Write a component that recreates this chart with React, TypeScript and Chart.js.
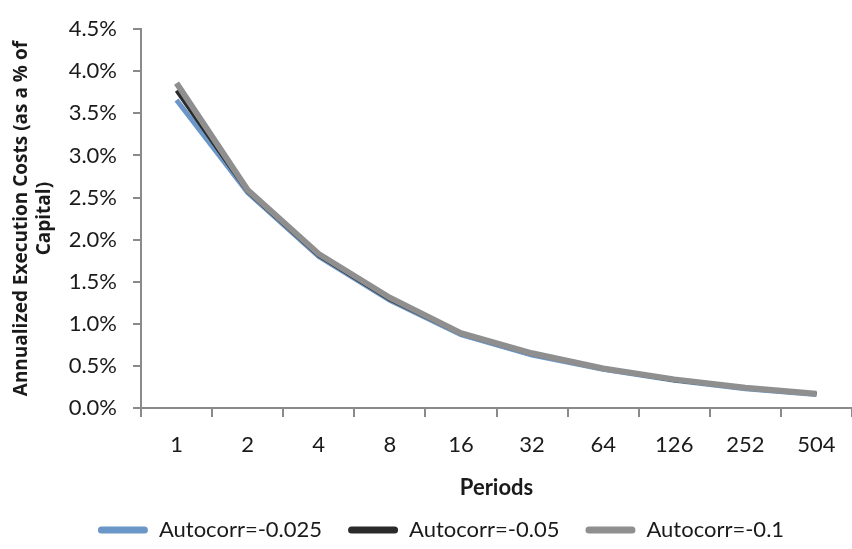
import React, { useEffect, useRef } from "react";
import { Chart, registerables } from "chart.js";

Chart.register(...registerables);

const periods = ["1", "2", "4", "8", "16", "32", "64", "126", "252", "504"];
const seriesNames = ["Autocorr=-0.025", "Autocorr=-0.05", "Autocorr=-0.1"];
const autocorr025 = [3.66, 2.56, 1.8, 1.28, 0.87, 0.63, 0.46, 0.33, 0.23, 0.16];
const autocorr05 = [3.77, 2.57, 1.81, 1.29, 0.88, 0.64, 0.47, 0.33, 0.24, 0.17];
const autocorr1 = [3.86, 2.59, 1.83, 1.31, 0.89, 0.65, 0.47, 0.34, 0.24, 0.17];
const yTicks = [0, 0.5, 1, 1.5, 2, 2.5, 3, 3.5, 4, 4.5];

const FONT = "Lato, 'Open Sans', sans-serif";
const AXIS_GRAY = "#8a8a8a";

export default function App() {
  const ref = useRef<HTMLCanvasElement | null>(null);
  useEffect(() => {
    if (!ref.current) return;
    const shiftLegend = {
      id: "shiftLegend",
      afterLayout(chart: any) {
        const l = chart.legend;
        if (l) {
          l.left += 15;
          l.right += 15;
        }
      },
    };
    const chart = new Chart(ref.current, {
      type: "line",
      data: {
        labels: periods,
        datasets: [
          {
            label: seriesNames[0],
            data: autocorr025,
            borderColor: "#6b96c8",
            backgroundColor: "#6b96c8",
            borderWidth: 5,
            pointRadius: 0,
            tension: 0,
            order: 2,
          },
          {
            label: seriesNames[1],
            data: autocorr05,
            borderColor: "#2a2a2a",
            backgroundColor: "#2a2a2a",
            borderWidth: 4,
            pointRadius: 0,
            tension: 0,
            order: 1,
          },
          {
            label: seriesNames[2],
            data: autocorr1,
            borderColor: "#8f8f8f",
            backgroundColor: "#8f8f8f",
            borderWidth: 6,
            pointRadius: 0,
            tension: 0,
            order: 0,
          },
        ],
      },
      plugins: [shiftLegend],
      options: {
        animation: false,
        responsive: true,
        maintainAspectRatio: false,
        layout: { padding: { top: 11, right: 0, left: 0, bottom: -2 } },
        plugins: {
          tooltip: { enabled: false },
          legend: {
            position: "bottom",
            labels: {
              color: "#1a1a1a",
              font: { family: FONT, size: 22 },
              boxWidth: 50,
              boxHeight: 7,
              padding: 26,
              useBorderRadius: true,
              borderRadius: 3.5,
              sort: (a: any, b: any) => a.datasetIndex - b.datasetIndex,
              generateLabels: (chart: any) =>
                Chart.defaults.plugins.legend.labels
                  .generateLabels(chart)
                  .map((it: any) => ({ ...it, lineWidth: 0, fillStyle: it.strokeStyle })),
            },
          },
        },
        scales: {
          x: {
            offset: true,
            afterFit: (s: any) => {
              s.height = 85;
            },
            grid: {
              offset: true,
              drawOnChartArea: false,
              color: AXIS_GRAY,
              lineWidth: 2,
              tickLength: 9,
            },
            border: { color: AXIS_GRAY, width: 2 },
            ticks: {
              color: "#1a1a1a",
              font: { family: FONT, size: 22 },
              padding: 15,
              maxRotation: 0,
              autoSkip: false,
            },
            title: {
              display: true,
              text: "Periods",
              color: "#1a1a1a",
              font: { family: FONT, size: 22, weight: "bold" },
              padding: { top: 0, bottom: -8 },
            },
          },
          y: {
            min: 0,
            max: 4.5,
            afterFit: (s: any) => {
              s.width = 141;
            },
            afterBuildTicks: (s: any) => {
              s.ticks = yTicks.map((v) => ({ value: v }));
            },
            grid: {
              drawOnChartArea: false,
              color: AXIS_GRAY,
              lineWidth: 2,
              tickLength: 8,
            },
            border: { color: AXIS_GRAY, width: 2 },
            ticks: {
              color: "#1a1a1a",
              font: { family: FONT, size: 22 },
              padding: 16,
              callback: (v: any) => Number(v).toFixed(1) + "%",
            },
            title: {
              display: true,
              text: ["Annualized Execution Costs (as a % of", "Capital)"],
              color: "#1a1a1a",
              font: { family: "'Open Sans', sans-serif", size: 19, weight: "bold" },
              padding: { top: 10, bottom: 0 },
            },
          },
        },
      },
    });
    return () => chart.destroy();
  }, []);
  return (
    <div style={{ position: "fixed", left: 0, top: 0, width: 852, height: 549, background: "#fff" }}>
      <canvas ref={ref} />
    </div>
  );
}
